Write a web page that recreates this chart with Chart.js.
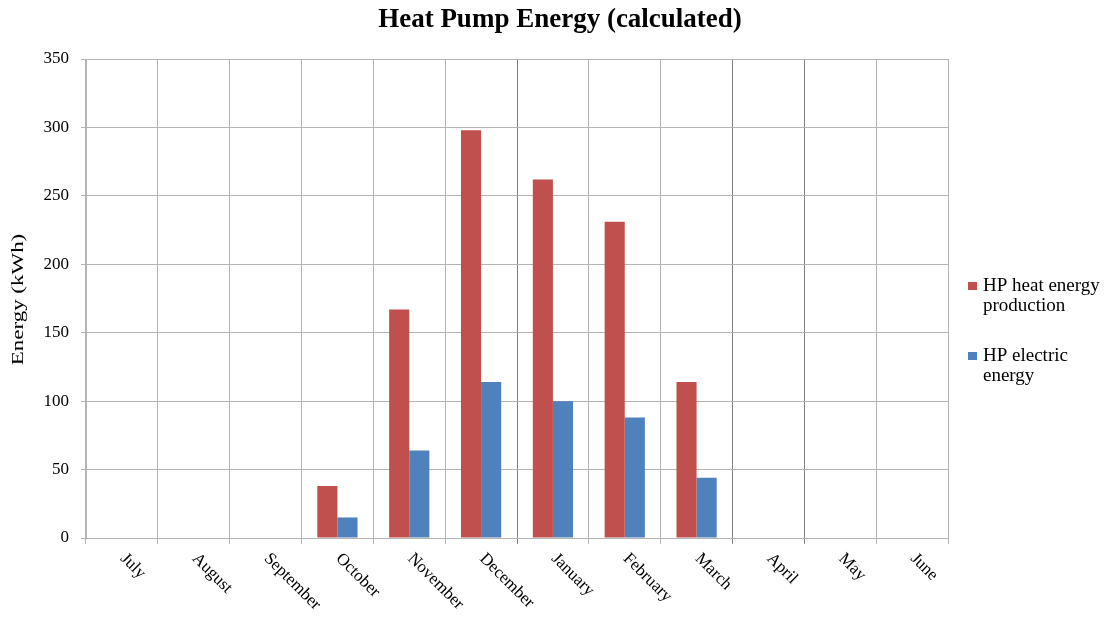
<!DOCTYPE html>
<html>
<head>
<meta charset="utf-8">
<script src="https://cdn.jsdelivr.net/npm/chart.js@4"></script>
<style>
  html, body { margin: 0; padding: 0; background: #fff; }
  #wrap { width: 1107px; height: 617px; }
</style>
</head>
<body>
<div id="wrap"><canvas id="chart" width="1107" height="617"></canvas></div>
<script>
// months on the x axis
const months = ["July", "August", "September", "October", "November", "December",
  "January", "February", "March", "April", "May", "June"]
// kWh
const heatProduction = [null, null, null, 38, 167, 298, 262, 231, 114, null, null, null]
const electricEnergy = [null, null, null, 15, 64, 114, 100, 88, 44, null, null, null]
const yTicks = [0, 50, 100, 150, 200, 250, 300, 350]
const legendLabels = [["HP heat energy", "production"], ["HP electric", "energy"]]

const serif = "'Liberation Serif', 'Times New Roman', serif"

// title, axis title, slanted month names and the two-line legend
const extrasPlugin = {
  id: "extras",
  afterDraw(chart) {
    const ctx = chart.ctx
    const xScale = chart.scales.x
    const area = chart.chartArea
    ctx.save()
    ctx.fillStyle = "#000"

    ctx.font = "bold 27px " + serif
    ctx.textAlign = "center"
    ctx.textBaseline = "alphabetic"
    ctx.fillText("Heat Pump Energy (calculated)", 560, 27)

    // y axis title, a bit stretched like the original
    ctx.save()
    ctx.font = "17px " + serif
    ctx.translate(23, (area.top + area.bottom) / 2 + 1)
    ctx.rotate(-Math.PI / 2)
    ctx.scale(1.35, 1)
    ctx.fillText("Energy (kWh)", 0, 0)
    ctx.restore()

    ctx.font = "17px " + serif
    ctx.textAlign = "left"
    ctx.textBaseline = "middle"
    months.forEach((m, i) => {
      const x = xScale.getPixelForValue(i)
      ctx.save()
      ctx.translate(x + 1, area.bottom + 18)
      ctx.rotate(Math.PI / 4)
      ctx.fillText(m, 0, 0)
      ctx.restore()
    })

    ctx.font = "19px " + serif
    const legendTops = [286, 356]
    chart.data.datasets.forEach((ds, i) => {
      const y = legendTops[i]
      ctx.fillStyle = ds.backgroundColor
      ctx.fillRect(968, y - 4, 9, 8)
      ctx.fillStyle = "#000"
      legendLabels[i].forEach((line, j) => {
        ctx.fillText(line, 983, y + j * 20)
      })
    })
    ctx.restore()
  },
}

const darkLines = [6, 9, 10]

new Chart(document.getElementById("chart"), {
  type: "bar",
  data: {
    labels: months,
    datasets: [
      {
        label: "HP heat energy production",
        data: heatProduction,
        backgroundColor: "#C0504D",
        categoryPercentage: 0.56,
        barPercentage: 1.0,
      },
      {
        label: "HP electric energy",
        data: electricEnergy,
        backgroundColor: "#4F81BD",
        categoryPercentage: 0.56,
        barPercentage: 1.0,
      },
    ],
  },
  options: {
    responsive: false,
    animation: false,
    layout: { padding: { left: 0, right: 159, top: 59, bottom: 0 } },
    plugins: {
      legend: { display: false },
      title: { display: false },
      tooltip: { enabled: false },
    },
    scales: {
      x: {
        offset: true,
        grid: {
          offset: true,
          tickLength: 6,
          color: c => (darkLines.includes(c.index) ? "#808080" : "#b4b4b4"),
        },
        border: { color: "#b4b4b4" },
        ticks: { display: false },
        afterFit: scale => {
          scale.height = 79
        },
      },
      y: {
        min: 0,
        max: 350,
        afterBuildTicks: scale => {
          scale.ticks = yTicks.map(v => ({ value: v }))
        },
        grid: { color: "#b4b4b4", tickLength: 5 },
        border: { color: "#b4b4b4" },
        ticks: {
          padding: 12,
          color: "#000",
          font: { family: serif, size: 17 },
        },
        afterFit: scale => {
          scale.width = 86
        },
      },
    },
  },
  plugins: [extrasPlugin],
})
</script>
</body>
</html>
